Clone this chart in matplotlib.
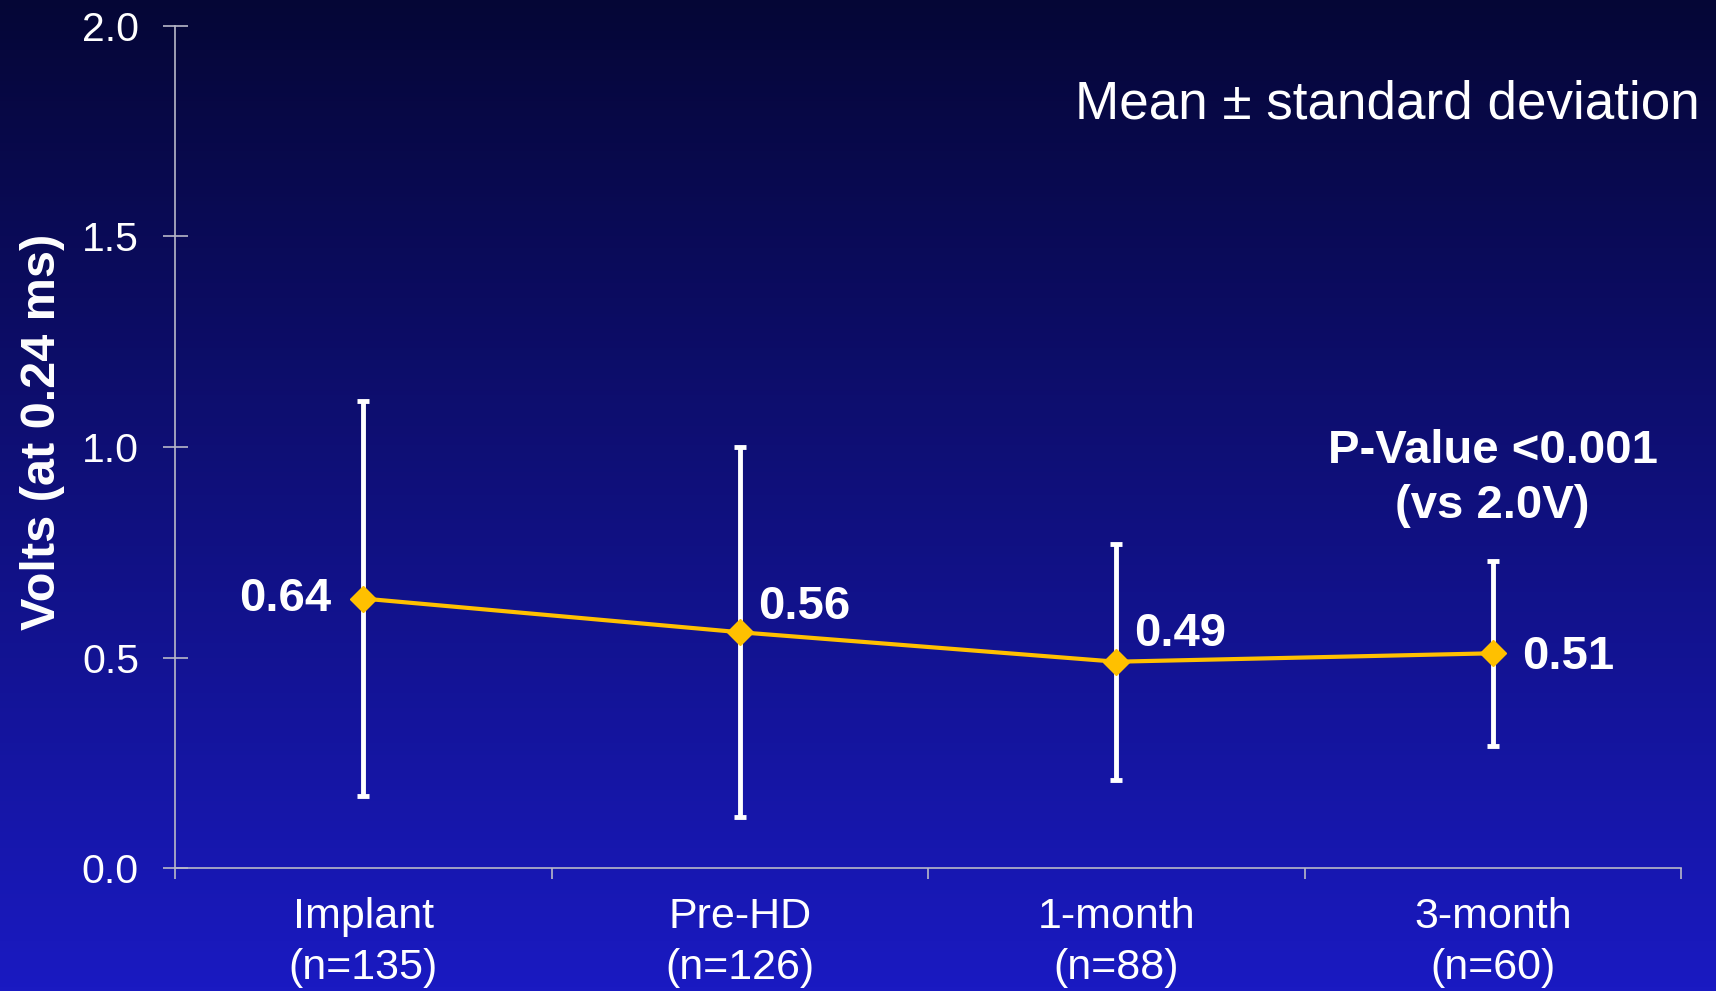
import matplotlib
matplotlib.use("Agg")
import matplotlib.pyplot as plt
import numpy as np

# Daten
categories = ["Implant\n(n=135)", "Pre-HD\n(n=126)", "1-month\n(n=88)", "3-month\n(n=60)"]
means = [0.64, 0.56, 0.49, 0.51]
sds = [0.47, 0.44, 0.28, 0.22]
labels = ["0.64", "0.56", "0.49", "0.51"]
label_offsets = [(-23, 0, "right"), (13, 18, "left"), (13, 20, "left"), (21, -3, "left")]  # Punkte

plt.rcParams['font.family'] = ['Liberation Sans', 'DejaVu Sans']

fig = plt.figure(figsize=(17.16, 9.91), dpi=100)

# Hintergrund mit Farbverlauf
bg = fig.add_axes([0, 0, 1, 1], zorder=-10)
top = np.array([5, 6, 54]) / 255
bottom = np.array([26, 26, 194]) / 255
t = np.linspace(0, 1, 256)[:, None]
grad = top + (bottom - top) * t
bg.imshow(grad[:, None, :].repeat(2, axis=1), aspect='auto', extent=[0, 1, 0, 1])
bg.axis('off')

ax = fig.add_axes([0.102, 0.1241, 0.8776, 0.8497])
ax.set_facecolor('none')
x = np.arange(len(categories))

ax.errorbar(x, means, yerr=sds, fmt='none', ecolor='white', elinewidth=3.5,
            capsize=4.5, capthick=3.5, zorder=2)
ax.plot(x, means, color='#FFC000', lw=3, marker='D', markersize=13, zorder=3)

for i in range(len(means)):
    dx, dy, ha = label_offsets[i]
    ax.annotate(labels[i], (x[i], means[i]), xytext=(dx, dy), textcoords='offset points',
                ha=ha, va='center', color='white', fontsize=34, fontweight='bold')

ax.text(3, 0.925, "P-Value <0.001\n(vs 2.0V)", ha='center', va='center', color='white',
        fontsize=34, fontweight='bold', linespacing=1.3)
fig.text(0.9907, 0.895, "Mean \u00b1 standard deviation", ha='right', va='center',
         color='white', fontsize=38.2)

ax.set_xlim(-0.5, 3.5)
ax.set_ylim(0, 2.0)
ax.set_yticks([0, 0.5, 1.0, 1.5, 2.0])
ax.set_yticklabels(["0.0", "0.5", "1.0", "1.5", "2.0"])
ax.set_xticks(x)
ax.set_xticklabels(categories, linespacing=1.35)
ax.set_xticks([-0.5, 0.5, 1.5, 2.5, 3.5], minor=True)

for s in ['top', 'right']:
    ax.spines[s].set_visible(False)
for s in ['left', 'bottom']:
    ax.spines[s].set_color('#b8b8c8')
    ax.spines[s].set_linewidth(1.2)

ax.tick_params(axis='y', direction='inout', length=18, width=1.2, color='#b8b8c8',
               labelcolor='white', labelsize=29.5, pad=17)
ax.tick_params(axis='x', which='major', length=0, labelcolor='white', labelsize=31, pad=21)
ax.tick_params(axis='x', which='minor', direction='out', length=8, width=1.2, color='#b8b8c8')

ax.set_ylabel("Volts (at 0.24 ms)", color='white', fontsize=35, fontweight='bold')
ax.yaxis.set_label_coords(-0.073, 0.518)

fig.savefig("out.png", dpi=100)
